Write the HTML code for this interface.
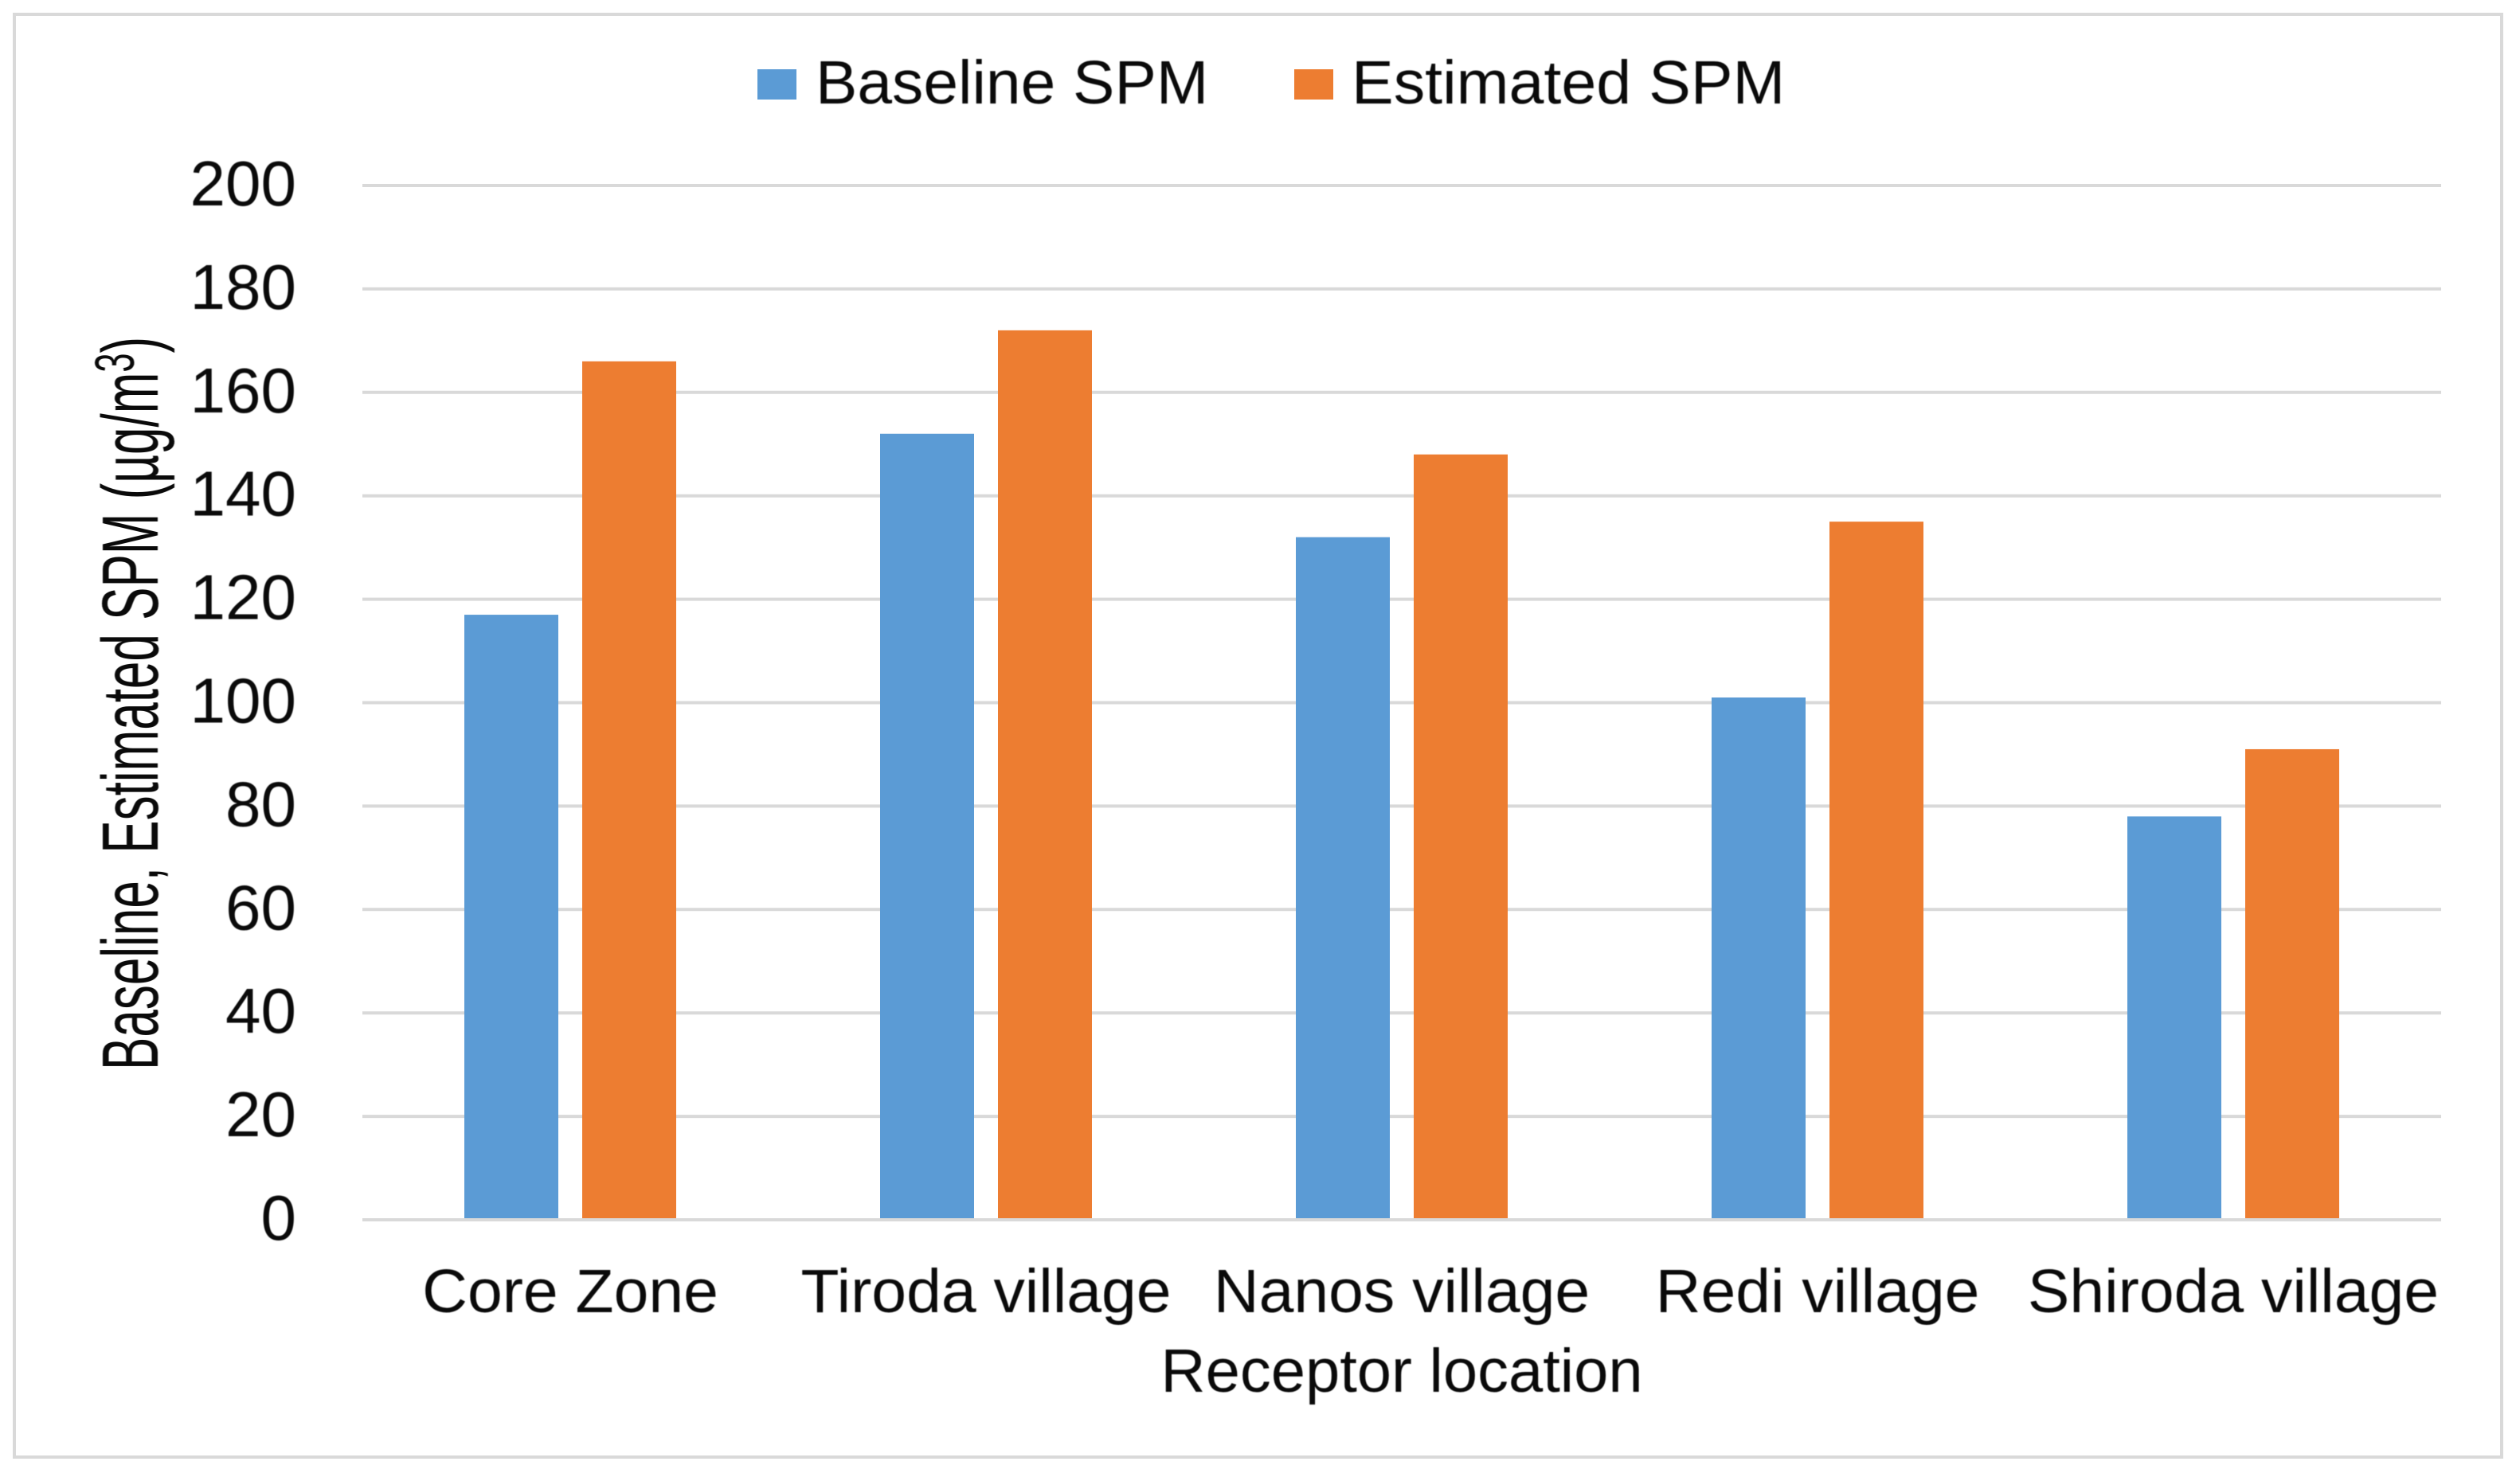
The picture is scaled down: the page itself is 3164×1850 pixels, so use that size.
<!DOCTYPE html>
<html lang="en">
<head>
<meta charset="utf-8">
<title>Baseline and Estimated SPM by receptor location</title>
<style>
  html, body { margin: 0; padding: 0; background: #fff; }
  svg { display: block; }
  text { font-family: "Liberation Sans", Arial, sans-serif; fill: #0a0a0a; filter: blur(0.6px); }
</style>
</head>
<body>
<svg id="chart" xmlns="http://www.w3.org/2000/svg" width="3164" height="1850" viewBox="0 0 3164 1850">
  <rect x="0" y="0" width="3164" height="1850" fill="#fff"/>
  <rect x="18" y="18" width="3123" height="1812" fill="#fff" stroke="#d9d9d9" stroke-width="4"/>
  <g id="grid"></g>
  <g id="bars"></g>
  <g id="yticks"></g>
  <g id="xticks"></g>

  <g>
    <g>
      <rect x="951" y="87" width="49" height="38" fill="#5b9bd5"/>
      <text transform="translate(1024,130) scale(1.02,1)" font-size="77">Baseline SPM</text>
    </g>
    <g>
      <rect x="1625" y="87" width="49" height="38" fill="#ed7d31"/>
      <text transform="translate(1697,130) scale(1.026,1)" font-size="77">Estimated SPM</text>
    </g>
  </g>

  <text transform="translate(1760,1748) scale(1.01,1)" font-size="77" text-anchor="middle">Receptor location</text>

  <text transform="translate(198,1344) rotate(-90) scale(0.62,1)" x="0" y="0" font-size="100" xml:space="preserve">Baseline, Estimated SPM (µg/m<tspan dy="-30" font-size="70">3</tspan><tspan dy="30">)</tspan></text>
</svg>

<script>
const categories = ["Core Zone", "Tiroda village", "Nanos village", "Redi village", "Shiroda village"];
const baselineSPM = [117, 152, 132, 101, 78];
const estimatedSPM = [166, 172, 148, 135, 91];
const yTicks = [0, 20, 40, 60, 80, 100, 120, 140, 160, 180, 200];

const SVG_NS = "http://www.w3.org/2000/svg";
const plotLeft = 455, plotRight = 3065, plotBottom = 1532, plotTop = 233;
const yMax = 200;
const barWidth = 118, barGap = 30, baseInset = 2;

function yScale(v) {
  return plotBottom - (v / yMax) * (plotBottom - plotTop);
}
function xCenter(i) {
  return plotLeft + (i + 0.5) * (plotRight - plotLeft) / categories.length;
}
function make(tag, attrs) {
  const el = document.createElementNS(SVG_NS, tag);
  Object.keys(attrs).forEach(function (k) { el.setAttribute(k, attrs[k]); });
  return el;
}

const gridGroup = document.getElementById("grid");
const yTickGroup = document.getElementById("yticks");
yTicks.forEach(function (t) {
  const line = make("line", { x1: plotLeft, x2: plotRight, y1: yScale(t), y2: yScale(t), stroke: "#d9d9d9", "stroke-width": 4 });
  
  
  gridGroup.appendChild(line);

  const label = make("text", { x: 372, y: yScale(t) + 25, "font-size": 80, "text-anchor": "end" });
  
  
  label.textContent = t;
  yTickGroup.appendChild(label);
});

const barGroup = document.getElementById("bars");
const xTickGroup = document.getElementById("xticks");
categories.forEach(function (c, i) {
  const cx = xCenter(i);
  const floor = yScale(0) - baseInset;

  const b = make("rect", { x: cx - barGap / 2 - barWidth, y: yScale(baselineSPM[i]), width: barWidth, height: floor - yScale(baselineSPM[i]), fill: "#5b9bd5" });
  
  
  barGroup.appendChild(b);

  const e = make("rect", { x: cx + barGap / 2, y: yScale(estimatedSPM[i]), width: barWidth, height: floor - yScale(estimatedSPM[i]), fill: "#ed7d31" });
  
  
  barGroup.appendChild(e);

  const label = make("text", { transform: "translate(" + cx + ",1648) scale(1.022,1)", "font-size": 77, "text-anchor": "middle" });
  
  
  label.textContent = c;
  xTickGroup.appendChild(label);
});
</script>
</body>
</html>
